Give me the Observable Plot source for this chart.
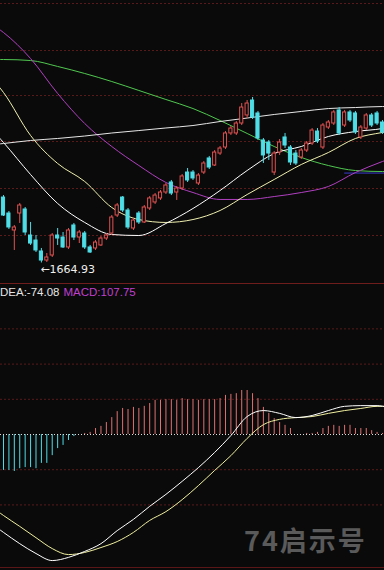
<!DOCTYPE html>
<html><head><meta charset="utf-8">
<script src="https://cdn.jsdelivr.net/npm/d3@7"></script>
<script src="https://cdn.jsdelivr.net/npm/@observablehq/plot@0.6"></script>
<style>
html,body{margin:0;padding:0;background:#0a0a0a;overflow:hidden;}
#wrap{position:relative;width:384px;height:570px;overflow:hidden;background:#0a0a0a;}
#price{height:283px;overflow:hidden;}
#macd{border-top:1px solid #6e1c1c;border-bottom:1px solid #5a1616;height:283px;overflow:hidden;}
#price svg,#macd svg{display:block;}
#label{position:absolute;left:0px;top:285px;font:11.5px/14px "Liberation Sans","DejaVu Sans",sans-serif;color:#e6e6e6;white-space:nowrap;}
#label .m{color:#c040d0;margin-left:4px;}
#wm{position:absolute;left:244px;top:526px;font:bold 27px/27px "Noto Sans CJK SC",sans-serif;letter-spacing:2px;color:#5a5a5a;white-space:nowrap;}
</style></head>
<body><div id="wrap"><div id="price"></div><div id="macd"></div>
<div id="label"><span>DEA:-74.08</span><span class="m">MACD:107.75</span></div>
<div id="wm">74启示号</div></div>
<script>
// ---- weekly candles (index 0..70) ----
const weeks = d3.range(71);
const open  = [2382,2207,2021,2207,2251,1966,1911,1791,1692,1747,1966,1944,1835,2076,1944,1988,1835,1824,1857,1933,1988,2185,2382,2240,2043,2207,2109,2262,2328,2372,2437,2547,2437,2481,2656,2656,2536,2656,2810,2733,2864,2930,3084,3084,3193,3281,3445,3303,3007,2985,2656,2875,3040,2930,2864,2821,2897,2974,3105,2930,3149,3193,3336,3171,3314,3303,3040,3138,3281,3303,3204];
const close = [2185,2054,2054,2295,1999,1878,1802,1692,1725,1966,1933,1835,2021,1944,1999,1835,1780,1889,1933,1966,2163,2295,2240,2054,2130,2109,2273,2372,2404,2437,2514,2426,2481,2613,2569,2591,2623,2755,2711,2875,2919,3084,3138,3193,3368,3412,3259,3029,2843,2864,2864,2985,2952,2766,2755,2897,2974,3116,2996,3171,3204,3314,3084,3314,3226,3095,3149,3281,3171,3193,3095];
const high  = [2404,2229,2076,2317,2273,2109,1966,1824,1769,1988,2043,1999,2043,2098,2021,2010,1857,1911,1955,1988,2185,2317,2393,2262,2152,2229,2295,2393,2426,2459,2536,2569,2503,2634,2700,2678,2645,2777,2832,2897,2941,3105,3160,3215,3412,3445,3478.01,3325,3029,3007,2886,3018,3084,2952,2897,2919,2996,3138,3138,3193,3226,3336,3368,3336,3336,3325,3171,3303,3303,3325,3226];
const low   = [2174,2032,1802,2098,1966,1857,1780,1664.93,1670,1725,1857,1824,1813,1911,1878,1813,1769,1802,1846,1911,1966,2163,2218,2032,2021,2087,2098,2240,2306,2350,2415,2404,2350,2459,2547,2569,2514,2634,2689,2722,2843,2908,3062,3062,3171,3248,3237,3007,2755,2788,2623,2843,2919,2733,2733,2799,2875,2952,2974,2908,3127,3171,3062,3149,3204,3073,3018,3116,3149,3171,3073];

// ---- moving averages, read at these candle indices ----
const maIdx     = [-1,0,5,10,15,20,25,30,35,40,45,50,55,60,65,70,71];
const maLong    = [2968,2974,3007,3029,3056,3089,3116,3144,3171,3215,3253,3292,3325,3357,3368,3379,3379];
const maGreen   = [3894,3894,3883,3818,3741,3653,3555,3456,3357,3226,3084,2941,2821,2733,2678,2667,2667];
const maMagenta = [4234,4190,3905,3522,3193,2941,2733,2547,2437,2361,2361,2393,2437,2503,2656,2777,2799];
const maA       = [3609,3533,3062,2755,2558,2273,2141,2109,2141,2240,2415,2580,2744,2875,3029,3095,3106];
const maB       = [3051,2985,2634,2317,2109,1977,1966,2098,2262,2459,2678,2864,2941,3051,3105,3138,3149];
const maBlueIdx = [63,71];
const maBlue    = [2650,2650];
const priceGrid = [4508,3993,3500,2996,2481,1966];

// ---- MACD ----
const macdHist = [-102,-102,-105,-97,-94,-94,-97,-82,-82,-60,-40,-31,-17,-6,0,3,6,17,23,34,48,65,74,71,77,74,80,88,97,97,99,99,97,102,99,99,97,99,99,99,102,111,114,116,125,125,116,102,77,60,45,34,26,17,0,0,3,3,6,17,23,26,23,26,26,17,17,17,11,6,3];
const lineIdx = [-1,0,3,6,9,12,15,18,21,24,27,30,33,36,39,42,45,48,51,54,57,60,63,66,69,71];
const dif = [-267,-278,-310,-338,-358,-349,-332,-310,-273,-241,-204,-170,-133,-94,-51,-3,51,68,60,48,54,68,80,82,82,77];
const dea = [-219,-230,-261,-293,-324,-341,-335,-321,-304,-278,-244,-219,-185,-145,-102,-60,-11,28,43,48,51,60,68,74,80,80];
const macdGrid = [300,200,100,-100,-200];

const BG="#0a0a0a", RED="#e05252", CYAN="#4fdde6", PINK="#e07272";
const xDomain=[-0.554,70.37];
const candles = weeks.map(i=>({i,o:open[i],h:high[i],l:low[i],c:close[i]}));
const up = d=>d.c>=d.o;
const pts = (idx,vals)=>idx.map((i,k)=>({i,v:vals[k]}));
const maLine = (idx,vals,color)=>Plot.line(pts(idx,vals),{x:"i",y:"v",stroke:color,strokeWidth:1,curve:"monotone-x",clip:true});
const lowPt = candles.reduce((a,b)=>b.l<a.l?b:a);

const pricePlot = Plot.plot({
  width:384,height:283,margin:0,
  x:{domain:xDomain,axis:null},
  y:{domain:[1440.3,4540.6],axis:null},
  color:{type:"identity"},
  style:{background:"transparent",overflow:"hidden"},
  marks:[
    Plot.ruleY(priceGrid,{stroke:"#5a1a1a",strokeDasharray:"2,2"}),
    maLine(maIdx,maGreen,"#50c850"),
    maLine(maBlueIdx,maBlue,"#3a3ad0"),
    maLine(maIdx,maMagenta,"#b040c0"),
    maLine(maIdx,maLong,"#e6e6e6"),
    maLine(maIdx,maA,"#f0f0b0"),
    maLine(maIdx,maB,"#ffffff"),
    Plot.ruleX(candles,{x:"i",y1:"l",y2:"h",stroke:d=>up(d)?RED:CYAN}),
    Plot.rect(candles,{x1:d=>d.i-0.29,x2:d=>d.i+0.29,y1:d=>Math.min(d.o,d.c),y2:d=>Math.max(d.o,d.c),fill:d=>up(d)?BG:CYAN,stroke:d=>up(d)?RED:CYAN,strokeWidth:1}),
    Plot.text([lowPt],{x:"i",y:"l",text:d=>"←"+d.l.toFixed(2),textAnchor:"start",dx:-1,dy:6,fill:"#f0f0f0",fontSize:11,fontFamily:"DejaVu Sans, sans-serif"})
  ]
});
document.getElementById("price").append(pricePlot);

const macdPlot = Plot.plot({
  width:384,height:283,margin:0,
  x:{domain:xDomain,axis:null},
  y:{domain:[-377.7,426],axis:null},
  color:{type:"identity"},
  style:{background:"transparent",overflow:"hidden"},
  marks:[
    Plot.ruleY(macdGrid,{stroke:"#5a1a1a",strokeDasharray:"2,2"}),
    Plot.ruleX(weeks,{x:i=>i,y1:0,y2:i=>macdHist[i],stroke:i=>macdHist[i]>=0?PINK:CYAN}),
    Plot.ruleY([0],{stroke:"#dddddd",strokeDasharray:"1,2"}),
    Plot.line(pts(lineIdx,dea),{x:"i",y:"v",stroke:"#f0f0a0",strokeWidth:1,curve:"monotone-x",clip:true}),
    Plot.line(pts(lineIdx,dif),{x:"i",y:"v",stroke:"#ffffff",strokeWidth:1,curve:"monotone-x",clip:true})
  ]
});
document.getElementById("macd").append(macdPlot);
</script>
</body></html>
